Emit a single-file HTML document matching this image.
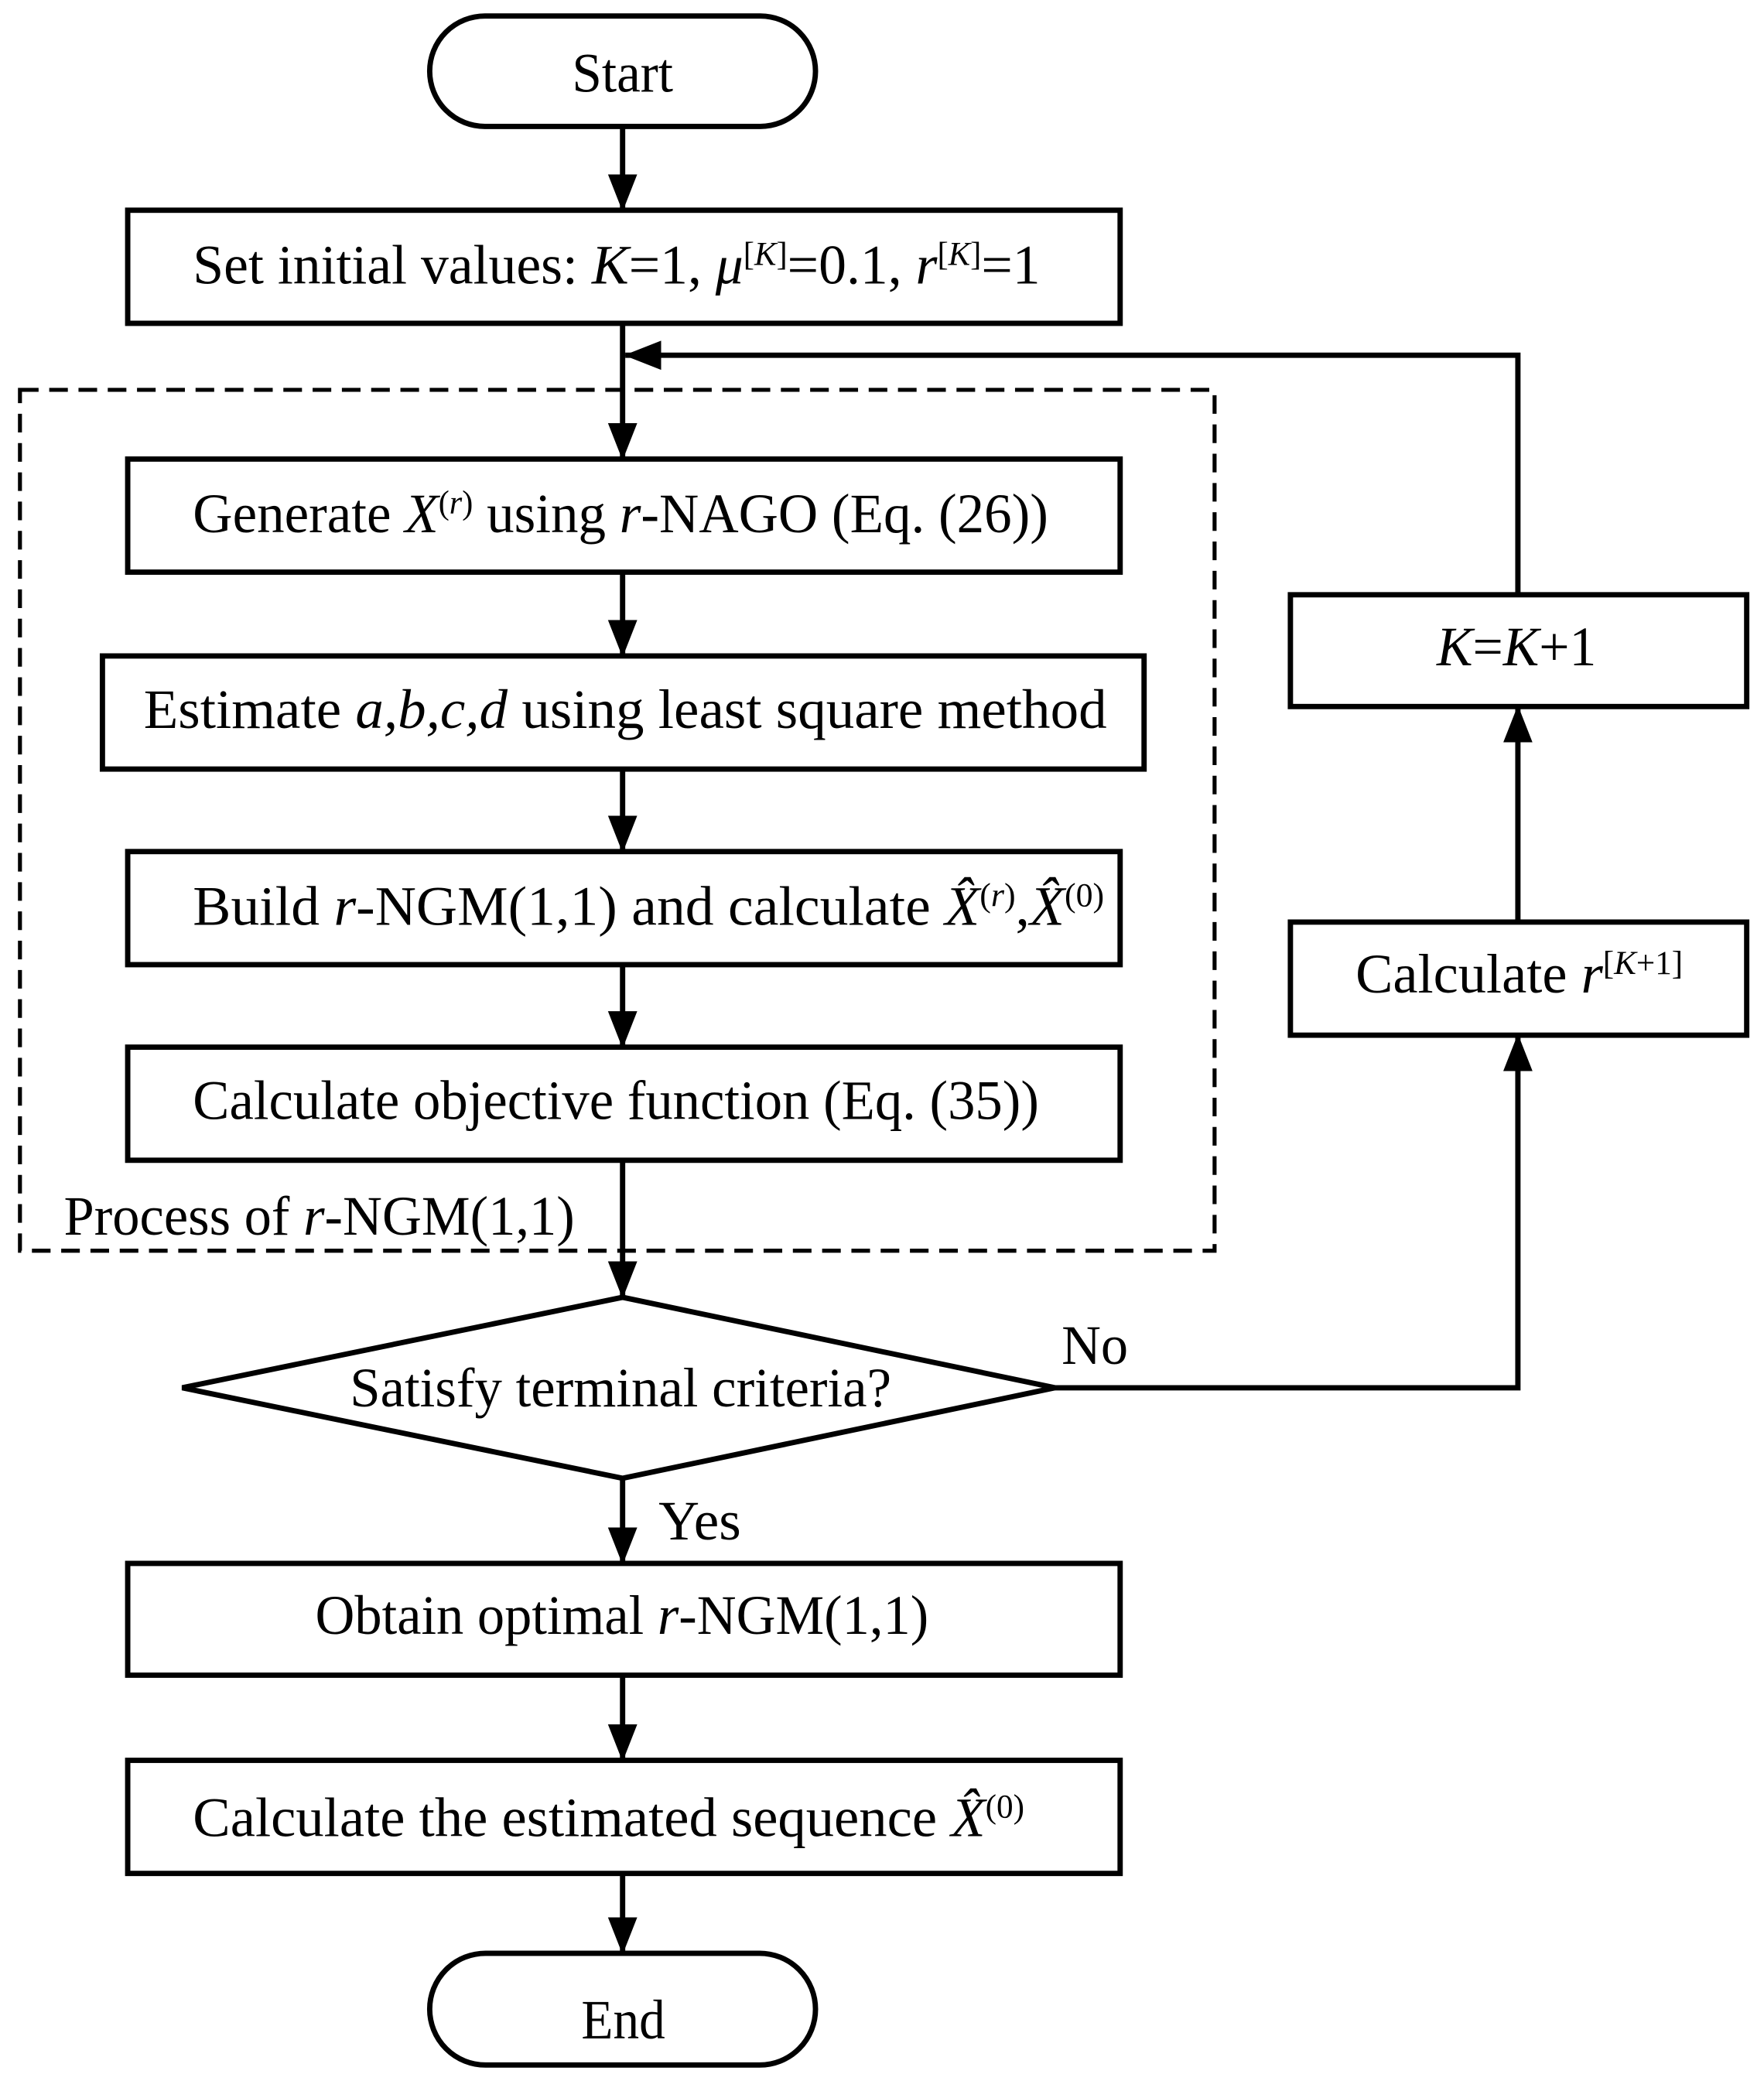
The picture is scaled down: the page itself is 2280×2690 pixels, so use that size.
<!DOCTYPE html>
<html><head><meta charset="utf-8"><style>html,body{margin:0;padding:0;background:#fff}svg{display:block}</style></head><body>
<svg width="2280" height="2690" viewBox="0 0 1326 1564" preserveAspectRatio="none" xmlns="http://www.w3.org/2000/svg" font-family="Liberation Serif, serif" font-size="42">
<defs>
<marker id="b" markerWidth="28" markerHeight="28" refX="27" refY="14" orient="auto" markerUnits="userSpaceOnUse" viewBox="0 0 28 28"><path d="M0,3 L28,14 L0,25 z" fill="#000"/></marker></defs>
<g fill="none" stroke="#000" stroke-width="4">
<rect x="323" y="12" width="290" height="83" rx="41.5"/>
<rect x="96" y="158" width="746" height="85"/>
<rect x="15" y="293" width="898" height="647" stroke-dasharray="14,8" stroke-width="3"/>
<rect x="96" y="345" width="746" height="85"/>
<rect x="77" y="493" width="783" height="85"/>
<rect x="96" y="640" width="746" height="85"/>
<rect x="96" y="787" width="746" height="85"/>
<polygon points="137,1043 468,975 793,1043 468,1111"/>
<rect x="970" y="447" width="343" height="84"/>
<rect x="970" y="693" width="343" height="85"/>
<rect x="96" y="1175" width="746" height="84"/>
<rect x="96" y="1323" width="746" height="85"/>
<rect x="323" y="1468" width="290" height="84" rx="42"/>
<g marker-end="url(#b)">
<line x1="468" y1="95" x2="468" y2="158"/>
<line x1="468" y1="243" x2="468" y2="345"/>
<line x1="468" y1="430" x2="468" y2="493"/>
<line x1="468" y1="578" x2="468" y2="640"/>
<line x1="468" y1="725" x2="468" y2="787"/>
<line x1="468" y1="872" x2="468" y2="975"/>
<line x1="468" y1="1111" x2="468" y2="1175"/>
<line x1="468" y1="1259" x2="468" y2="1323"/>
<line x1="468" y1="1408" x2="468" y2="1468"/>
<polyline points="793,1043 1141,1043 1141,778"/>
<line x1="1141" y1="693" x2="1141" y2="531"/>
<polyline points="1141,447 1141,267 470,267"/>
</g></g>
<g fill="#000">
<text x="430" y="69" textLength="76" lengthAdjust="spacingAndGlyphs">Start</text>
<text x="145" y="213" textLength="637" lengthAdjust="spacingAndGlyphs">Set initial values: <tspan font-style="italic">K</tspan>=1, <tspan font-style="italic">μ</tspan><tspan font-size="25" dy="-14">[<tspan font-style="italic">K</tspan>]</tspan><tspan dy="14">=0.1, </tspan><tspan font-style="italic">r</tspan><tspan font-size="25" dy="-14">[<tspan font-style="italic">K</tspan>]</tspan><tspan dy="14">=1</tspan></text>
<text x="145" y="400" textLength="643" lengthAdjust="spacingAndGlyphs">Generate <tspan font-style="italic">X</tspan><tspan font-size="25" dy="-14">(<tspan font-style="italic">r</tspan>)</tspan><tspan dy="14"> using </tspan><tspan font-style="italic">r</tspan>-NAGO (Eq. (26))</text>
<text x="108" y="547" textLength="724" lengthAdjust="spacingAndGlyphs">Estimate <tspan font-style="italic">a,b,c,d</tspan>   using least square method</text>
<text x="145" y="695" textLength="685" lengthAdjust="spacingAndGlyphs">Build <tspan font-style="italic">r</tspan>-NGM(1,1) and calculate  <tspan font-style="italic">X̂</tspan><tspan font-size="25" dy="-14">(<tspan font-style="italic">r</tspan>)</tspan><tspan dy="14">,</tspan><tspan font-style="italic">X̂</tspan><tspan font-size="25" dy="-14">(0)</tspan></text>
<text x="145" y="841" textLength="636" lengthAdjust="spacingAndGlyphs">Calculate objective function (Eq. (35))</text>
<text x="48" y="928" textLength="384" lengthAdjust="spacingAndGlyphs">Process of <tspan font-style="italic">r</tspan>-NGM(1,1)</text>
<text x="263" y="1057" textLength="407" lengthAdjust="spacingAndGlyphs">Satisfy terminal criteria?</text>
<text x="798" y="1025" textLength="50" lengthAdjust="spacingAndGlyphs">No</text>
<text x="495" y="1157" textLength="62" lengthAdjust="spacingAndGlyphs">Yes</text>
<text x="1080" y="500" textLength="120" lengthAdjust="spacingAndGlyphs"><tspan font-style="italic">K</tspan>=<tspan font-style="italic">K</tspan>+1</text>
<text x="1019" y="746" textLength="246" lengthAdjust="spacingAndGlyphs">Calculate <tspan font-style="italic">r</tspan><tspan font-size="25" dy="-14">[<tspan font-style="italic">K</tspan>+1]</tspan></text>
<text x="237" y="1228" textLength="461" lengthAdjust="spacingAndGlyphs">Obtain optimal <tspan font-style="italic">r</tspan>-NGM(1,1)</text>
<text x="145" y="1380" textLength="625" lengthAdjust="spacingAndGlyphs">Calculate the estimated sequence  <tspan font-style="italic">X̂</tspan><tspan font-size="25" dy="-14">(0)</tspan></text>
<text x="437" y="1532" textLength="63" lengthAdjust="spacingAndGlyphs">End</text>
</g>
</svg>
</body></html>
